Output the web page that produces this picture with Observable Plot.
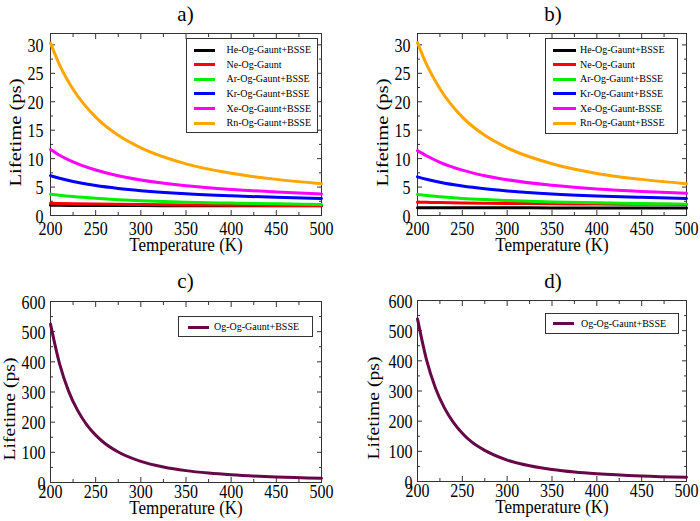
<!DOCTYPE html>
<html><head><meta charset="utf-8">
<script src="https://cdn.jsdelivr.net/npm/d3@7"></script>
<script src="https://cdn.jsdelivr.net/npm/@observablehq/plot@0.6"></script>
<style>
body{margin:0;background:#fff;}
#root{position:relative;width:700px;height:521px;font-family:"Liberation Serif","Times New Roman",serif;overflow:hidden;}
.panel{position:absolute;}
.title{position:absolute;font-size:21px;line-height:1;transform:translate(-50%,-50%);white-space:nowrap;color:#000;}
.legend{position:absolute;border:1px solid #333;background:#fff;box-sizing:border-box;}
.lg-line{position:absolute;height:3px;}
.lg-text{position:absolute;font-size:10px;line-height:14px;height:14px;white-space:nowrap;color:#000;}
</style></head><body><div id="root"></div>
<script>
// ---- data ----
const T = [200, 210, 225, 250, 275, 300, 350, 400, 450, 500];
const namesA = ["He-Og-Gaunt+BSSE","Ne-Og-Gaunt","Ar-Og-Gaunt+BSSE","Kr-Og-Gaunt+BSSE","Xe-Og-Gaunt+BSSE","Rn-Og-Gaunt+BSSE"];
const namesB = ["He-Og-Gaunt+BSSE","Ne-Og-Gaunt","Ar-Og-Gaunt+BSSE","Kr-Og-Gaunt+BSSE","Xe-Og-Gaunt-BSSE","Rn-Og-Gaunt+BSSE"];
const colors = ["#000000","#ff0000","#00f000","#0000ff","#ff00ff","#ffa500"];
const heA = [1.80,1.79,1.78,1.76,1.75,1.74,1.73,1.72,1.71,1.70];
const neA = [2.15,2.11,2.07,2.01,1.96,1.92,1.86,1.81,1.78,1.75];
const arA = [3.75,3.56,3.32,3.02,2.79,2.61,2.35,2.18,2.05,1.95];
const krA = [7.0,6.54,5.98,5.27,4.76,4.37,3.82,3.46,3.19,3.0];
const xeA = [11.6,10.6,9.43,8.0,6.99,6.24,5.23,4.58,4.13,3.8];
const rnA = [30.3,26.5,22.2,17.3,14.1,11.9,9.08,7.42,6.35,5.6];
const heB = [1.38,1.38,1.37,1.36,1.35,1.35,1.34,1.33,1.33,1.32];
const neB = [2.35,2.31,2.27,2.21,2.16,2.12,2.06,2.01,1.98,1.95];
const arB = [3.7,3.52,3.30,3.01,2.80,2.63,2.38,2.22,2.09,2.0];
const krB = [6.8,6.38,5.85,5.18,4.69,4.32,3.79,3.44,3.19,3.0];
const xeB = [11.4,10.5,9.36,7.98,7.0,6.29,5.30,4.66,4.22,3.9];
const rnB = [30.4,26.6,22.3,17.3,14.1,11.9,9.1,7.4,6.35,5.6];
const TOg = [200,210,220,230,240,250,260,275,300,325,350,375,400,450,500];
const ogName = "Og-Og-Gaunt+BSSE";
const ogColor = "#670748";
const ogC = [525,394,303,239,192,157,130,101,70,51.5,39.4,31.4,25.6,18.3,14];
const ogD = [539,404,310,244,196,160,132,103,71,52,39.8,31.5,25.8,18.4,14];
const xMajor = [200,250,300,350,400,450,500];
const xMinor = [225,275,325,375,425,475];
const yMajorAB = [0,5,10,15,20,25,30];
const yMinorAB = [2.5,7.5,12.5,17.5,22.5,27.5];
const yMajorCD = [0,100,200,300,400,500,600];
const yMinorCD = [50,150,250,350,450,550];
const titles = ["a)", "b)", "c)", "d)"];
const xLabel = "Temperature (K)";
const yLabel = "Lifetime (ps)";

const FONT = '"Liberation Serif","Times New Roman",serif';
const root = document.getElementById("root");

function rows(temps, names, arrays) {
  const out = [];
  names.forEach((n, i) => arrays[i].forEach((v, j) => out.push({T: temps[j], v, s: n})));
  return out;
}

function panel(o) {
  const fc = "#333";
  const marks = [
    Plot.frame({stroke: fc, strokeWidth: 1}),
    Plot.axisX(xMajor, {anchor: "bottom", tickSize: -5, fill: "none", label: null, stroke: fc}),
    Plot.axisX(xMajor, {anchor: "top", tickSize: -5, fill: "none", label: null, stroke: fc}),
    Plot.axisX(xMinor, {anchor: "bottom", tickSize: -3, fill: "none", label: null, stroke: fc}),
    Plot.axisX(xMinor, {anchor: "top", tickSize: -3, fill: "none", label: null, stroke: fc}),
    Plot.axisY(o.yMajor, {anchor: "left", tickSize: -5, fill: "none", label: null, stroke: fc}),
    Plot.axisY(o.yMajor, {anchor: "right", tickSize: -5, fill: "none", label: null, stroke: fc}),
    Plot.axisY(o.yMinor, {anchor: "left", tickSize: -3, fill: "none", label: null, stroke: fc}),
    Plot.axisY(o.yMinor, {anchor: "right", tickSize: -3, fill: "none", label: null, stroke: fc}),
    Plot.axisX(xMajor, {anchor: "bottom", tickSize: 0, tickPadding: o.xPad, fontSize: 16, label: null, fill: "#000", tickFormat: d => String(d)}),
    Plot.axisY(o.yMajor, {anchor: "left", tickSize: 0, tickPadding: o.yPad, fontSize: 16, label: null, fill: "#000", dy: 1, tickFormat: d => String(d)}),
    Plot.line(o.data, {x: "T", y: "v", z: "s", stroke: "s", strokeWidth: 3, curve: "monotone-x"}),
    Plot.text([yLabel], {text: d => d, frameAnchor: "left", textAnchor: "middle", lineAnchor: "middle", dx: o.yLabDx, dy: o.yLabDy, rotate: -90, fontSize: 16, fill: "#000"}),
    Plot.text([xLabel], {text: d => d, frameAnchor: "bottom", textAnchor: "middle", lineAnchor: "middle", dy: o.xLabDy, fontSize: 17, fill: "#000"})
  ];
  const svg = Plot.plot({
    width: 350, height: o.height,
    marginLeft: o.ml, marginRight: o.mr, marginTop: o.mt, marginBottom: o.mb,
    x: {domain: [200, 500]},
    y: {domain: o.yDomain},
    color: {domain: o.names, range: o.colors},
    style: {fontFamily: FONT, background: "white", color: "#000", overflow: "visible"},
    marks
  });
  const s = d3.select(svg);
  const texts = s.selectAll("text");
  texts.filter(function () { return /^\d+$/.test(this.textContent); }).each(function () {
    const t = this.getAttribute("transform");
    if (t) this.setAttribute("transform", t + " scale(1,1.2)");
  });
  texts.filter(function () { return this.textContent === xLabel; }).each(function () {
    const t = this.getAttribute("transform");
    if (t) this.setAttribute("transform", t + " scale(1,1.1)");
  });
  texts.filter(function () { return this.textContent === yLabel; })
    .attr("textLength", o.yLabLen).attr("lengthAdjust", "spacingAndGlyphs");
  return svg;
}

function place(el, left, top) {
  const d = document.createElement("div");
  d.className = "panel";
  d.style.left = left + "px"; d.style.top = top + "px";
  d.appendChild(el);
  root.appendChild(d);
}
function title(txt, x, y) {
  const d = document.createElement("div");
  d.className = "title"; d.textContent = txt;
  d.style.left = x + "px"; d.style.top = y + "px";
  root.appendChild(d);
}
function legend(box, names, cols, L) {
  const d = document.createElement("div");
  d.className = "legend";
  d.style.left = box[0] + "px"; d.style.top = box[1] + "px";
  d.style.width = box[2] + "px"; d.style.height = box[3] + "px";
  names.forEach((n, i) => {
    const y = L.y0 + i * L.dy;
    const ln = document.createElement("div");
    ln.className = "lg-line";
    ln.style.left = L.lx + "px"; ln.style.width = L.lw + "px";
    ln.style.top = (y - 1.5) + "px"; ln.style.background = cols[i];
    d.appendChild(ln);
    const tx = document.createElement("div");
    tx.className = "lg-text"; tx.textContent = n;
    tx.style.left = L.tx + "px"; tx.style.top = (y - 7) + "px";
    d.appendChild(tx);
  });
  root.appendChild(d);
}

const dataA = rows(T, namesA, [heA, neA, arA, krA, xeA, rnA]);
const dataB = rows(T, namesB, [heB, neB, arB, krB, xeB, rnB]);
const dataC = rows(TOg, [ogName], [ogC]);
const dataD = rows(TOg, [ogName], [ogD]);

place(panel({data: dataA, names: namesA, colors, yDomain: [0, 32], yMajor: yMajorAB, yMinor: yMinorAB,
  height: 260, ml: 50, mr: 29, mt: 33, mb: 45, xPad: 6, yPad: 7, yLabDx: -35, yLabDy: 8, yLabLen: 108, xLabDy: 30}), 0, 0);
place(panel({data: dataB, names: namesB, colors, yDomain: [0, 32], yMajor: yMajorAB, yMinor: yMinorAB,
  height: 260, ml: 67, mr: 14, mt: 33, mb: 45, xPad: 6, yPad: 7, yLabDx: -35, yLabDy: 8, yLabLen: 108, xLabDy: 30}), 350, 0);
place(panel({data: dataC, names: [ogName], colors: [ogColor], yDomain: [0, 600], yMajor: yMajorCD, yMinor: yMinorCD,
  height: 261, ml: 50, mr: 29, mt: 41, mb: 39, xPad: 2, yPad: 5, yLabDx: -41, yLabDy: 17, yLabLen: 103, xLabDy: 26}), 0, 260);
place(panel({data: dataD, names: [ogName], colors: [ogColor], yDomain: [0, 600], yMajor: yMajorCD, yMinor: yMinorCD,
  height: 261, ml: 67, mr: 14, mt: 40, mb: 40, xPad: 2, yPad: 5, yLabDx: -44, yLabDy: 17, yLabLen: 103, xLabDy: 26}), 350, 260);

title(titles[0], 185.5, 14);
title(titles[1], 553, 14);
title(titles[2], 185.5, 280.5);
title(titles[3], 553, 280.5);

legend([186, 38, 132, 95], namesA, colors, {y0: 11, dy: 14.65, lx: 6.5, lw: 21, tx: 39.5});
legend([545, 37.5, 133, 96], namesB, colors, {y0: 11.5, dy: 14.65, lx: 7, lw: 23, tx: 34});
legend([178, 316, 135, 21], [ogName], [ogColor], {y0: 10, dy: 0, lx: 8.5, lw: 21.5, tx: 35});
legend([545, 312.5, 134, 21.5], [ogName], [ogColor], {y0: 10, dy: 0, lx: 6.5, lw: 21, tx: 35});
</script></body></html>
